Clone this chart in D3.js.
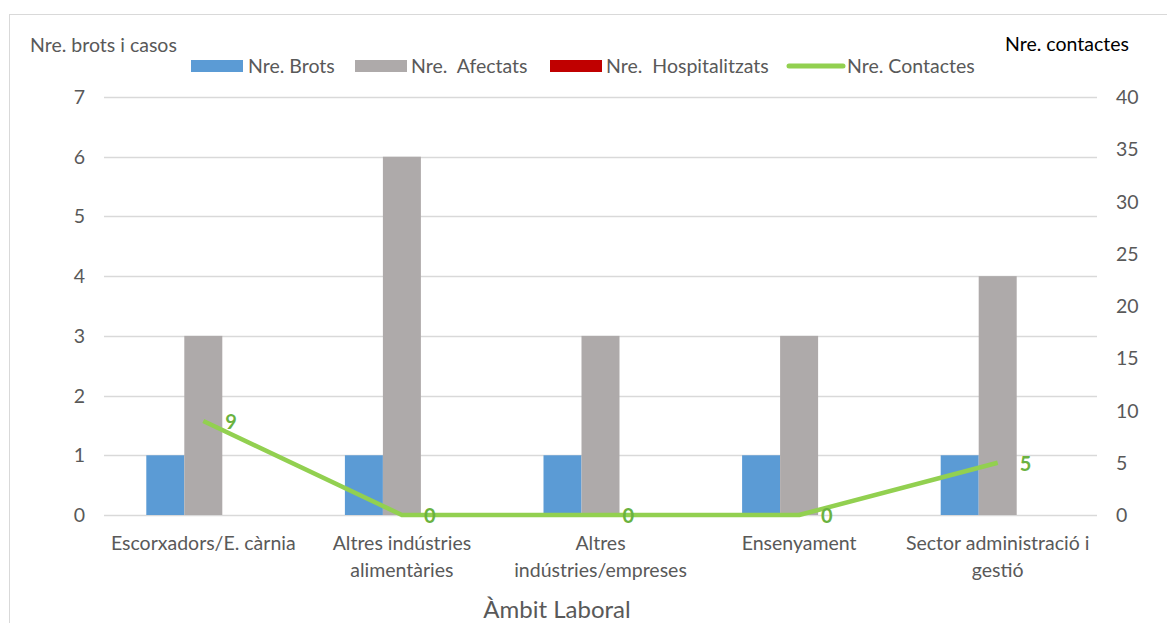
<!DOCTYPE html>
<html><head><meta charset="utf-8">
<script src="https://cdn.jsdelivr.net/npm/d3@7"></script>
<style>body{margin:0;background:#fff}svg{display:block}text{font-family:Lato,"Open Sans",sans-serif;white-space:pre}</style>
</head><body><svg id="c" width="1167" height="623"></svg>
<script>
const categories = [["Escorxadors/E. càrnia"],["Altres indústries","alimentàries"],["Altres","indústries/empreses"],["Ensenyament"],["Sector administració i","gestió"]];
const brots = [1,1,1,1,1];
const afectats = [3,6,3,3,4];
const hospitalitzats = [0,0,0,0,0];
const contactes = [9,0,0,0,5];
const leftTicks = [0,1,2,3,4,5,6,7];
const rightTicks = [0,5,10,15,20,25,30,35,40];
const seriesNames = ["Nre. Brots","Nre.  Afectats","Nre.  Hospitalitzats","Nre. Contactes"];

const svg = d3.select("#c");
const W=1167,H=623;
const m={l:104,r:1097,t:97,b:515};
const fs=19.5;
svg.append("rect").attr("x",9.5).attr("y",14.5).attr("width",W).attr("height",H).attr("fill","#fff").attr("stroke","#D9D9D9");

const x = d3.scaleBand().domain(d3.range(categories.length)).range([m.l,m.r]);
const yL = d3.scaleLinear().domain([0,7]).range([m.b,m.t]);
const yR = d3.scaleLinear().domain([0,40]).range([m.b,m.t]);
const bw = 38;
const colors=["#5B9BD5","#AEAAAA","#C00000","#92D050"];

svg.append("g").selectAll("line").data(leftTicks).join("line")
 .attr("x1",m.l).attr("x2",m.r).attr("y1",d=>Math.round(yL(d))+0.5).attr("y2",d=>Math.round(yL(d))+0.5)
 .attr("stroke","#D9D9D9").attr("stroke-width",1.5);

svg.append("g").selectAll("text").data(leftTicks).join("text")
 .attr("x",85).attr("y",d=>yL(d)).attr("dy","0.36em").attr("text-anchor","end")
 .attr("font-size",fs).attr("fill","#595959").text(d=>d);
svg.append("g").selectAll("text").data(rightTicks).join("text")
 .attr("x",1116).attr("y",d=>yR(d)).attr("dy","0.36em").attr("text-anchor","start")
 .attr("font-size",fs).attr("fill","#595959").text(d=>d);

const series=[brots,afectats,hospitalitzats];
series.forEach((s,si)=>{
  svg.append("g").selectAll("rect").data(s).join("rect")
   .attr("x",(d,i)=>x(i)+x.bandwidth()/2-1.5*bw+si*bw)
   .attr("width",bw)
   .attr("y",d=>yL(d)).attr("height",d=>yL(0)-yL(d))
   .attr("fill",colors[si]);
});

const line=d3.line().x((d,i)=>x(i)+x.bandwidth()/2).y(d=>yR(d));
svg.append("path").datum(contactes).attr("d",line).attr("fill","none")
 .attr("stroke",colors[3]).attr("stroke-width",4.5).attr("stroke-linejoin","round");
svg.append("g").selectAll("text").data(contactes).join("text")
 .attr("x",(d,i)=>x(i)+x.bandwidth()/2+22).attr("y",d=>yR(d)+1).attr("dy","0.36em")
 .attr("font-size",20).attr("font-weight","bold").attr("fill","#6AB23F").text(d=>d);

const cg=svg.append("g");
categories.forEach((lines,i)=>{
  lines.forEach((t,j)=>{
    cg.append("text").attr("x",x(i)+x.bandwidth()/2).attr("y",550+j*27).attr("text-anchor","middle")
     .attr("font-size",fs).attr("fill","#595959").text(t);
  });
});

svg.append("text").attr("x",30).attr("y",52).attr("font-size",fs).attr("fill","#595959").text("Nre. brots i casos");
svg.append("text").attr("x",1005).attr("y",51).attr("font-size",fs).attr("fill","#000").text("Nre. contactes");
svg.append("text").attr("x",557).attr("y",618).attr("text-anchor","middle").attr("font-size",24).attr("fill","#595959").text("Àmbit Laboral");

const leg=[{x:191,tx:248},{x:355,tx:411},{x:550,tx:606},{x:787,tx:847}];
leg.forEach((l,i)=>{
  if(i<3) svg.append("rect").attr("x",l.x).attr("y",60).attr("width",52).attr("height",12).attr("fill",colors[i]);
  else svg.append("line").attr("x1",l.x+2).attr("x2",l.x+56).attr("y1",66).attr("y2",66).attr("stroke",colors[3]).attr("stroke-width",5).attr("stroke-linecap","round");
  svg.append("text").attr("x",l.tx).attr("y",66).attr("dy","0.36em").attr("font-size",fs).attr("fill","#595959").text(seriesNames[i]);
});
</script></body></html>
